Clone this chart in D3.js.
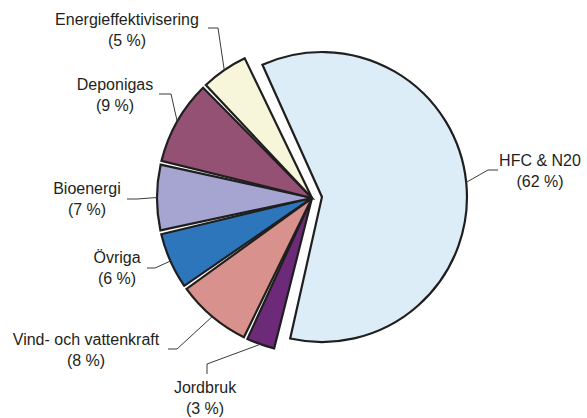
<!DOCTYPE html>
<html>
<head>
<meta charset="utf-8">
<script src="https://cdn.jsdelivr.net/npm/d3@7"></script>
<style>
  html, body { margin: 0; padding: 0; background: #ffffff; }
  svg { display: block; }
  text { font-family: "Liberation Sans", Arial, Helvetica, sans-serif; font-size: 16px; fill: #231f20; }
</style>
</head>
<body>
<svg id="chart" width="587" height="418"></svg>
<script>
// Categories in clockwise order, starting with the large slice at the top
const categories = ["HFC & N20", "Jordbruk", "Vind- och vattenkraft", "Övriga", "Bioenergi", "Deponigas", "Energieffektivisering"];
const shares = [62, 3, 8, 6, 7, 9, 5];
const shareLabels = ["(62 %)", "(3 %)", "(8 %)", "(6 %)", "(7 %)", "(9 %)", "(5 %)"];
const colors = ["#dcedf7", "#6d2a78", "#d9918d", "#2e76bb", "#a6a4d1", "#955174", "#f8f6da"];

// Layout
const width = 587, height = 418;
const cx = 312, cy = 198;            // common centre of the pie
const rSmall = 155, rLarge = 145;    // outer radius of the small slices / the pulled-out slice
const explode = 10;                  // pull-out distance of the first slice
const deg = Math.PI / 180;
const start = -25 * deg;

// Label placement: text anchor (centre x, first baseline) and leader elbow/end
const labelLayout = [
  { x: 540, y: 166, elbow: [488, 170], end: [498, 170] },
  { x: 205, y: 393, elbow: [207, 364], end: [207, 374] },
  { x: 86,  y: 345, elbow: [177, 349], end: [168, 349] },
  { x: 117, y: 263, elbow: [155, 268], end: [147, 268] },
  { x: 87,  y: 194, elbow: [137, 199], end: [127, 199] },
  { x: 115, y: 90,  elbow: [171, 94],  end: [159, 94] },
  { x: 127, y: 25,  elbow: [218, 28],  end: [208, 28] }
];

const svg = d3.select("#chart");

const pie = d3.pie().sort(null).value(d => d)
  .startAngle(start).endAngle(start + 2 * Math.PI)
  .padAngle(0.025);
const arcs = pie(shares);

const arcSmall = d3.arc().innerRadius(0).outerRadius(rSmall).padRadius(rSmall);
const arcLarge = d3.arc().innerRadius(0).outerRadius(rLarge).padRadius(rSmall);

function sliceOrigin(a, i) {
  if (i !== 0) return [cx, cy];
  const mid = (a.startAngle + a.endAngle) / 2;
  return [cx + explode * Math.sin(mid), cy - explode * Math.cos(mid)];
}
function radiusOf(i) { return i === 0 ? rLarge : rSmall; }

const slices = svg.append("g").attr("class", "slices");
slices.selectAll("path")
  .data(arcs)
  .join("path")
  .attr("transform", (a, i) => `translate(${sliceOrigin(a, i)})`)
  .attr("d", (a, i) => (i === 0 ? arcLarge : arcSmall)(a))
  .attr("fill", (a, i) => colors[i])
  .attr("stroke", "#1f1f1f")
  .attr("stroke-width", 2.2)
  .attr("stroke-linejoin", "miter");

// Leader lines from the middle of each slice's rim to its label
const leaders = svg.append("g").attr("class", "leaders");
leaders.selectAll("polyline")
  .data(arcs)
  .join("polyline")
  .attr("points", (a, i) => {
    const [ox, oy] = sliceOrigin(a, i);
    const mid = (a.startAngle + a.endAngle) / 2;
    const r = radiusOf(i);
    const p = [ox + r * Math.sin(mid), oy - r * Math.cos(mid)];
    const L = labelLayout[i];
    return [p, L.elbow, L.end].map(q => q.join(",")).join(" ");
  })
  .attr("fill", "none")
  .attr("stroke", "#3a3a3a")
  .attr("stroke-width", 1);

// Two-line labels: category name and share
const labels = svg.append("g").attr("class", "labels");
const lbl = labels.selectAll("text")
  .data(categories)
  .join("text")
  .attr("text-anchor", "middle")
  .attr("x", (d, i) => labelLayout[i].x)
  .attr("y", (d, i) => labelLayout[i].y);
lbl.append("tspan")
  .attr("x", (d, i) => labelLayout[i].x)
  .text(d => d);
lbl.append("tspan")
  .attr("x", (d, i) => labelLayout[i].x)
  .attr("dy", 21)
  .text((d, i) => shareLabels[i]);
</script>
</body>
</html>
